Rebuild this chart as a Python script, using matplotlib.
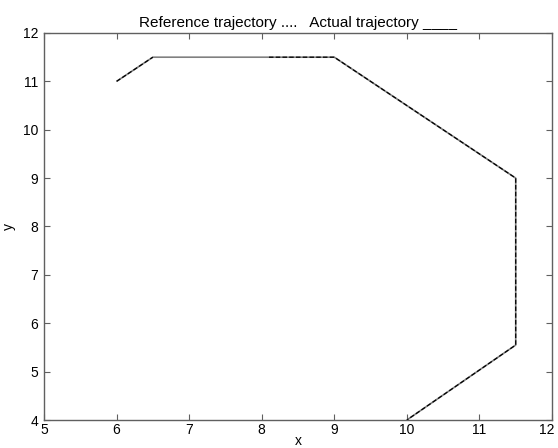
import numpy as np
import matplotlib
matplotlib.use("Agg")
import matplotlib.pyplot as plt
import matplotlib.transforms as mtransforms

plt.rcParams['font.family'] = ['Liberation Sans', 'DejaVu Sans']

# Actual trajectory (solid gray)
actual_x = [6.0, 6.5, 9.0, 11.5, 11.5, 10.0]
actual_y = [11.0, 11.5, 11.5, 9.0, 5.55, 4.0]

# Reference trajectory (dotted/dashed black), break between segments
ref_x = [6.0, 6.5, np.nan, 8.1, 9.0, 11.5, 11.5, 10.0]
ref_y = [11.0, 11.5, np.nan, 11.5, 11.5, 9.0, 5.55, 4.0]

xticks = [5, 6, 7, 8, 9, 10, 11, 12]
yticks = [4, 5, 6, 7, 8, 9, 10, 11, 12]

fig = plt.figure(figsize=(5.58, 4.48), dpi=100)
ax = fig.add_axes([44/558, 28/448, (552-44)/558, (420-33)/448])

ax.plot(actual_x, actual_y, color='#808080', lw=1.2, solid_capstyle='butt')
ax.plot(ref_x, ref_y, color='black', lw=0.9, dashes=(3.6, 1.8))

ax.set_xlim(5, 12)
ax.set_ylim(4, 12)
ax.set_xticks(xticks)
ax.set_yticks(yticks)
ax.tick_params(axis='both', direction='in', length=4, width=0.8, top=True, right=True,
               labelsize=10, color='#606060')
ax.tick_params(axis='x', pad=2)
ax.tick_params(axis='y', pad=4)
for s in ax.spines.values():
    s.set_color('#606060')
    s.set_linewidth(1.0)

ax.set_title('Reference trajectory ....   Actual trajectory ____', fontsize=11, pad=4)
ax.set_xlabel('x', fontsize=10, labelpad=-2)
ax.set_ylabel('y', fontsize=10, labelpad=5)

# keep the last x tick label inside the canvas
fig.canvas.draw()
last = ax.get_xticklabels()[-1]
last.set_transform(last.get_transform() + mtransforms.ScaledTranslation(-5/100, 0, fig.dpi_scale_trans))

fig.savefig('out.png', dpi=100)
